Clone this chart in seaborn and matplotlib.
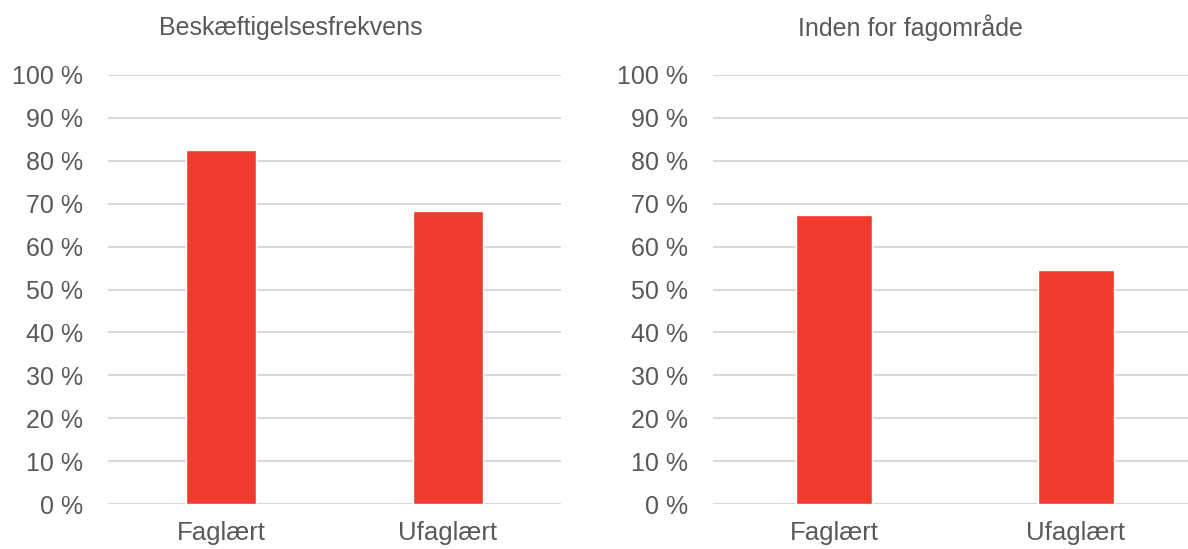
import pandas as pd
import matplotlib
matplotlib.use("Agg")
import matplotlib.pyplot as plt
import seaborn as sns

# data
categories = ["Faglært", "Ufaglært"]
beskaeftigelse = [82.5, 68.3]
inden_for_fag = [67.4, 54.5]
titles = ["Beskæftigelsesfrekvens", "Inden for fagområde"]
yticks = list(range(0, 101, 10))

sns.set_theme(style="white")
plt.rcParams["font.family"] = ["Liberation Sans", "DejaVu Sans"]

text_col = "#595959"
bar_col = "#EE3B2E"
grid_col = "#D9D9D9"

fig = plt.figure(figsize=(11.88, 5.49), dpi=100)
# axes positions in figure fractions
positions = [[108 / 1188, 45 / 549, 453 / 1188, 429 / 549],
             [713 / 1188, 45 / 549, 484 / 1188, 429 / 549]]
title_x = [291 / 1188, 910 / 1188]

for pos, vals, title, tx in zip(positions, [beskaeftigelse, inden_for_fag], titles, title_x):
    ax = fig.add_axes(pos)
    df = pd.DataFrame({"kategori": categories, "andel": vals})
    sns.barplot(data=df, x="kategori", y="andel", color=bar_col, saturation=1,
                width=0.31, ax=ax)
    ax.set_ylim(0, 100)
    ax.set_xlim(-0.5, 1.5)
    ax.set_yticks(yticks)
    ax.set_yticklabels([f"{v} %" for v in yticks])
    ax.yaxis.grid(True, color=grid_col, linewidth=1.5)
    ax.set_axisbelow(True)
    for s in ax.spines.values():
        s.set_visible(False)
    ax.tick_params(axis="y", length=0, pad=18, labelsize=18, labelcolor=text_col)
    ax.tick_params(axis="x", length=0, pad=12, labelsize=18.5, labelcolor=text_col)
    ax.set_xlabel("")
    ax.set_ylabel("")
    fig.text(tx, 1 - 28 / 549, title, ha="center", va="center",
             fontsize=18, color=text_col)

fig.savefig("out.png", dpi=100)
